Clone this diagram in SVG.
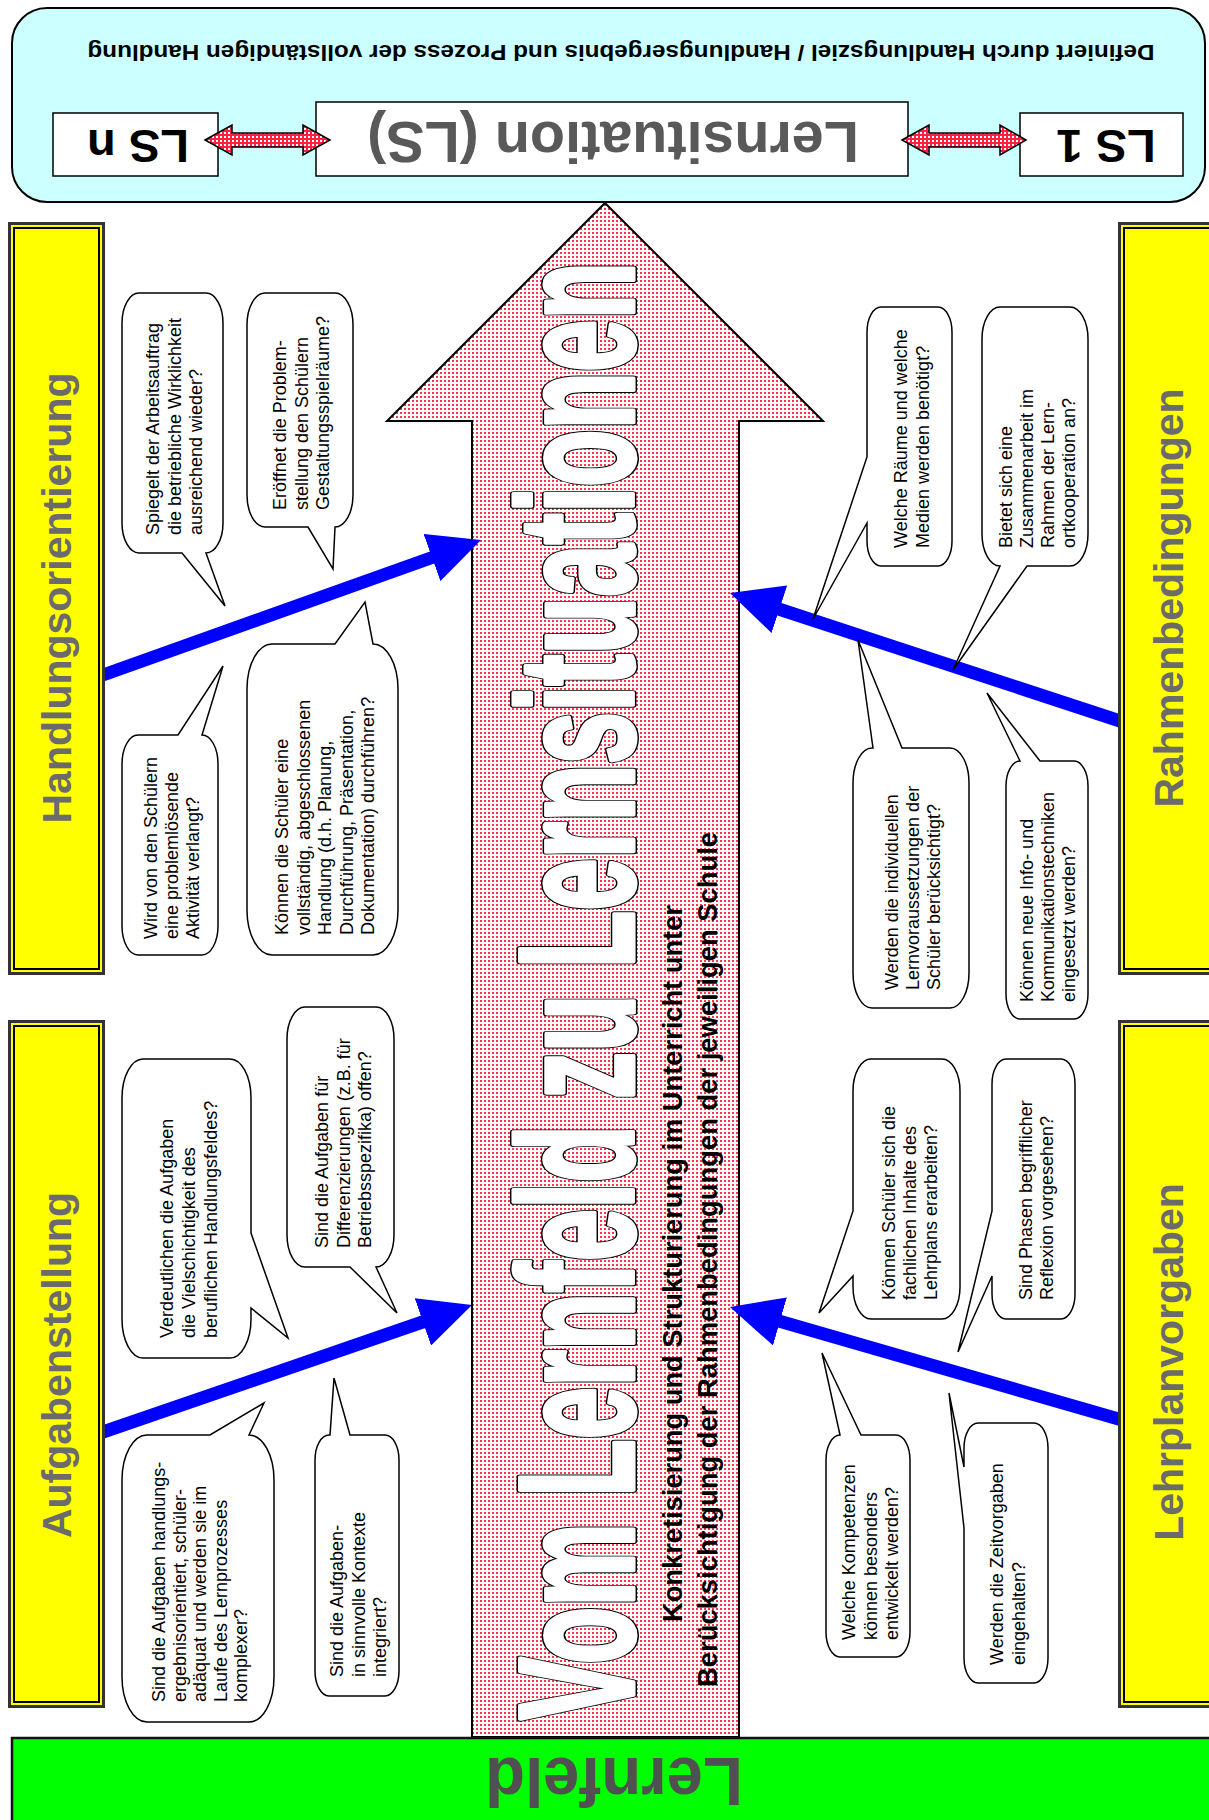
<svg xmlns="http://www.w3.org/2000/svg" width="1209" height="1820" viewBox="0 0 1209 1820">
<defs>
<pattern id="pinkDots" width="4" height="4" patternUnits="userSpaceOnUse"><rect width="4" height="4" fill="#ffffff"/><rect width="2" height="2" fill="#ff3355"/></pattern>
<pattern id="redDots" width="4" height="4" patternUnits="userSpaceOnUse"><rect width="4" height="4" fill="#ff2040"/><rect width="2" height="2" fill="#ffffff"/></pattern>
<marker id="bh" markerUnits="userSpaceOnUse" markerWidth="52" markerHeight="50" viewBox="0 0 52 50" refX="12" refY="25" orient="auto"><path d="M0,0 L52,25 L0,50 Z" fill="#0000ff"/></marker>
<text id="bigT" transform="translate(633,1720) rotate(-90)" font-family="Liberation Sans, Arial, sans-serif" font-size="164" font-weight="bold" textLength="1458" lengthAdjust="spacingAndGlyphs" stroke-linejoin="round">Vom Lernfeld zu Lernsituationen</text>
</defs>
<style>
.sans{font-family:"Liberation Sans",Arial,sans-serif}
.bub{fill:#fff;stroke:#000;stroke-width:1.5}
.bt{font-family:"Liberation Sans",Arial,sans-serif;font-size:18px;fill:#000}
.ybox{fill:#ffff00;stroke:#333;stroke-width:3}
.yin{fill:none;stroke:#000;stroke-width:2}
.ylab{font-family:"Liberation Sans",Arial,sans-serif;font-weight:bold;font-size:41px;fill:#6b6b6b;text-anchor:middle}
.blue{stroke:#0000ff;stroke-width:13;fill:none;marker-end:url(#bh)}
.wbox{fill:#fff;stroke:#000;stroke-width:1.5}
</style>

<g id="lernsituation-panel">
<rect x="12" y="8" width="1193" height="194" rx="35" ry="35" fill="#ccffff" stroke="#000" stroke-width="2"/>
<text class="sans" x="621" y="59.5" text-anchor="middle" font-size="22" font-weight="bold" textLength="1067" lengthAdjust="spacingAndGlyphs" transform="rotate(180 621 52)">Definiert durch Handlungsziel / Handlungsergebnis und Prozess der vollständigen Handlung</text>
</g>
<g id="ls-n">
<rect class="wbox" x="53" y="113" width="165" height="63"/>
<text class="sans" x="138" y="164" text-anchor="middle" font-size="47" font-weight="bold" transform="rotate(180 138 147)">LS n</text>
</g>
<g id="ls-main">
<rect class="wbox" x="316" y="102" width="592" height="74"/>
<text class="sans" x="613" y="162.5" text-anchor="middle" font-size="57" font-weight="bold" fill="#595959" textLength="492" lengthAdjust="spacingAndGlyphs" transform="rotate(180 613 142)">Lernsituation (LS)</text>
</g>
<g id="ls-1">
<rect class="wbox" x="1020" y="113" width="163" height="63"/>
<text class="sans" x="1106" y="164" text-anchor="middle" font-size="47" font-weight="bold" transform="rotate(180 1106 147)">LS 1</text>
</g>
<g id="double-arrows">
<path d="M205,140 L232,125 V133 H303 V125 L330,140 L303,155 V147 H232 V155 Z" fill="url(#redDots)" stroke="#000" stroke-width="1.5"/>
<path d="M902,140 L929,125 V133 H1000 V125 L1026,140 L1000,155 V147 H929 V155 Z" fill="url(#redDots)" stroke="#000" stroke-width="1.5"/>
</g>

<g id="main-arrow">
<path d="M605,203 L823,421 H739 V1737 H472 V421 H387 Z" fill="url(#pinkDots)" stroke="#000" stroke-width="2"/>
<use href="#bigT" fill="#000" stroke="#000" stroke-width="8"/>
<use href="#bigT" fill="#fff" stroke="#fff" stroke-width="5"/>
<text class="sans" transform="translate(682,1622) rotate(-90)" font-size="27" font-weight="bold" textLength="717" lengthAdjust="spacingAndGlyphs">Konkretisierung und Strukturierung im Unterricht unter</text>
<text class="sans" transform="translate(717,1687) rotate(-90)" font-size="27" font-weight="bold" textLength="855" lengthAdjust="spacingAndGlyphs">Berücksichtigung der Rahmenbedingungen der jeweiligen Schule</text>
</g>

<g id="connectors">
<line class="blue" x1="103" y1="675" x2="443.3" y2="553.5"/>
<line class="blue" x1="103" y1="1432" x2="434.2" y2="1318"/>
<line class="blue" x1="1120" y1="721" x2="768" y2="605.5"/>
<line class="blue" x1="1122" y1="1420" x2="768.4" y2="1318.1"/>
</g>

<g id="handlungsorientierung">
<rect class="ybox" x="9.5" y="223.5" width="94" height="750"/>
<rect class="yin" x="14" y="228" width="85" height="741"/>
<text class="ylab" transform="translate(71,598) rotate(-90)">Handlungsorientierung</text>
</g>
<g id="aufgabenstellung">
<rect class="ybox" x="9.5" y="1021.5" width="94" height="685"/>
<rect class="yin" x="14" y="1026" width="85" height="676"/>
<text class="ylab" transform="translate(71,1365) rotate(-90)">Aufgabenstellung</text>
</g>
<g id="rahmenbedingungen">
<rect class="ybox" x="1119.5" y="223.5" width="100" height="750"/>
<rect class="yin" x="1124" y="228" width="95" height="741"/>
<text class="ylab" transform="translate(1183,598) rotate(-90)">Rahmenbedingungen</text>
</g>
<g id="lehrplanvorgaben">
<rect class="ybox" x="1119.5" y="1021.5" width="100" height="685"/>
<rect class="yin" x="1124" y="1026" width="95" height="676"/>
<text class="ylab" transform="translate(1183,1362) rotate(-90)">Lehrplanvorgaben</text>
</g>

<g id="q-spiegelt">
<path class="bub" d="M139,293 H206 A17,30 0 0 1 223,323 V523 A17,30 0 0 1 206,553 L225,606 L182,553 H139 A17,30 0 0 1 122,523 V323 A17,30 0 0 1 139,293 Z"/>
<text class="bt" transform="translate(159,535) rotate(-90)"><tspan x="0" y="0">Spiegelt der Arbeitsauftrag</tspan><tspan x="0" y="21.5">die betriebliche Wirklichkeit</tspan><tspan x="0" y="43">ausreichend wieder?</tspan></text>
</g>
<g id="q-eroeffnet">
<path class="bub" d="M265,293 H335 A18,32 0 0 1 353,325 V495 A18,32 0 0 1 335,527 L333,569 L308,527 H265 A18,32 0 0 1 247,495 V325 A18,32 0 0 1 265,293 Z"/>
<text class="bt" transform="translate(286,510) rotate(-90)"><tspan x="0" y="0">Eröffnet die Problem-</tspan><tspan x="0" y="21.5">stellung den Schülern</tspan><tspan x="0" y="43">Gestaltungsspielräume?</tspan></text>
</g>
<g id="q-wird">
<path class="bub" d="M138,735 H178 L223,666 L202,735 A16,29 0 0 1 218,764 V926 A16,29 0 0 1 202,955 H138 A16,29 0 0 1 122,926 V764 A16,29 0 0 1 138,735 Z"/>
<text class="bt" transform="translate(157,939) rotate(-90)"><tspan x="0" y="0">Wird von den Schülern</tspan><tspan x="0" y="21">eine problemlösende</tspan><tspan x="0" y="42">Aktivität verlangt?</tspan></text>
</g>
<g id="q-koennen-handlung">
<path class="bub" d="M272,644 H335 L365,602 L373,644 A25,45 0 0 1 398,689 V910 A25,45 0 0 1 373,955 H272 A25,45 0 0 1 247,910 V689 A25,45 0 0 1 272,644 Z"/>
<text class="bt" transform="translate(288,935) rotate(-90)"><tspan x="0" y="0">Können die Schüler eine</tspan><tspan x="0" y="21.5">vollständig, abgeschlossenen</tspan><tspan x="0" y="43">Handlung (d.h. Planung,</tspan><tspan x="0" y="64.5">Durchführung, Präsentation,</tspan><tspan x="0" y="86">Dokumentation) durchführen?</tspan></text>
</g>
<g id="q-verdeutlichen">
<path class="bub" d="M143,1059 H230 A21,39 0 0 1 251,1098 V1233 L288,1338 L251,1308 V1319 A21,39 0 0 1 230,1358 H143 A21,39 0 0 1 122,1319 V1098 A21,39 0 0 1 143,1059 Z"/>
<text class="bt" transform="translate(173,1338) rotate(-90)"><tspan x="0" y="0">Verdeutlichen die Aufgaben</tspan><tspan x="0" y="22">die Vielschichtigkeit des</tspan><tspan x="0" y="44">beruflichen Handlungsfeldes?</tspan></text>
</g>
<g id="q-differenzierungen">
<path class="bub" d="M305,1007 H376 A18,32 0 0 1 394,1039 V1235 A18,32 0 0 1 376,1267 L397,1313 L350,1267 H305 A18,32 0 0 1 287,1235 V1039 A18,32 0 0 1 305,1007 Z"/>
<text class="bt" transform="translate(328,1248) rotate(-90)"><tspan x="0" y="0">Sind die Aufgaben für</tspan><tspan x="0" y="21.5">Differenzierungen (z.B. für</tspan><tspan x="0" y="43">Betriebsspezifika) offen?</tspan></text>
</g>
<g id="q-handlungsergebnis">
<path class="bub" d="M147,1435 H210 L264,1403 L249,1435 A25,45 0 0 1 274,1480 V1677 A25,45 0 0 1 249,1722 H147 A25,45 0 0 1 122,1677 V1480 A25,45 0 0 1 147,1435 Z"/>
<text class="bt" transform="translate(165,1702) rotate(-90)"><tspan x="0" y="0">Sind die Aufgaben handlungs-</tspan><tspan x="0" y="20.5">ergebnisorientiert, schüler-</tspan><tspan x="0" y="41">adäquat und werden sie im</tspan><tspan x="0" y="61.5">Laufe des Lernprozesses</tspan><tspan x="0" y="82">komplexer?</tspan></text>
</g>
<g id="q-kontexte">
<path class="bub" d="M329,1435 H330 L334,1378 L350,1435 H385 A14,25 0 0 1 399,1460 V1671 A14,25 0 0 1 385,1696 H329 A14,25 0 0 1 315,1671 V1460 A14,25 0 0 1 329,1435 Z"/>
<text class="bt" transform="translate(343,1677) rotate(-90)"><tspan x="0" y="0">Sind die Aufgaben-</tspan><tspan x="0" y="21.5">in sinnvolle Kontexte</tspan><tspan x="0" y="43">integriert?</tspan></text>
</g>

<g id="q-raeume">
<path class="bub" d="M881,307 H938 A14,25 0 0 1 952,332 V541 A14,25 0 0 1 938,566 H881 A14,25 0 0 1 867,541 V523 L813,619 L867,457 V332 A14,25 0 0 1 881,307 Z"/>
<text class="bt" transform="translate(907,548) rotate(-90)"><tspan x="0" y="0">Welche Räume und welche</tspan><tspan x="0" y="21.5">Medien werden benötigt?</tspan></text>
</g>
<g id="q-lernort">
<path class="bub" d="M1000,307 H1070 A18,32 0 0 1 1088,339 V534 A18,32 0 0 1 1070,566 H1027 L953,670 L1000,566 A18,32 0 0 1 982,534 V339 A18,32 0 0 1 1000,307 Z"/>
<text class="bt" transform="translate(1012,548) rotate(-90)"><tspan x="0" y="0">Bietet sich eine</tspan><tspan x="0" y="21">Zusammenarbeit im</tspan><tspan x="0" y="42">Rahmen der Lern-</tspan><tspan x="0" y="63">ortkooperation an?</tspan></text>
</g>
<g id="q-lernvoraussetzungen">
<path class="bub" d="M872,748 H873 L858,640 L902,748 H950 A19,35 0 0 1 969,783 V973 A19,35 0 0 1 950,1008 H872 A19,35 0 0 1 853,973 V783 A19,35 0 0 1 872,748 Z"/>
<text class="bt" transform="translate(898,990) rotate(-90)"><tspan x="0" y="0">Werden die individuellen</tspan><tspan x="0" y="21">Lernvoraussetzungen der</tspan><tspan x="0" y="42">Schüler berücksichtigt?</tspan></text>
</g>
<g id="q-info">
<path class="bub" d="M1020,761 L987,693 L1040,761 H1074 A14,25 0 0 1 1088,786 V994 A14,25 0 0 1 1074,1019 H1020 A14,25 0 0 1 1006,994 V786 A14,25 0 0 1 1020,761 Z"/>
<text class="bt" transform="translate(1033,1002) rotate(-90)"><tspan x="0" y="0">Können neue Info- und</tspan><tspan x="0" y="21">Kommunikationstechniken</tspan><tspan x="0" y="42">eingesetzt werden?</tspan></text>
</g>
<g id="q-fachinhalte">
<path class="bub" d="M871,1059 H942 A18,32 0 0 1 960,1091 V1287 A18,32 0 0 1 942,1319 H871 A18,32 0 0 1 853,1287 V1276 L819,1313 L853,1211 V1091 A18,32 0 0 1 871,1059 Z"/>
<text class="bt" transform="translate(895,1300) rotate(-90)"><tspan x="0" y="0">Können Schüler sich die</tspan><tspan x="0" y="21">fachlichen Inhalte des</tspan><tspan x="0" y="42">Lehrplans erarbeiten?</tspan></text>
</g>
<g id="q-reflexion">
<path class="bub" d="M1006,1059 H1061 A14,25 0 0 1 1075,1084 V1294 A14,25 0 0 1 1061,1319 H1006 A14,25 0 0 1 992,1294 V1276 L958,1352 L992,1211 V1084 A14,25 0 0 1 1006,1059 Z"/>
<text class="bt" transform="translate(1032,1300) rotate(-90)"><tspan x="0" y="0">Sind Phasen begrifflicher</tspan><tspan x="0" y="21">Reflexion vorgesehen?</tspan></text>
</g>
<g id="q-kompetenzen">
<path class="bub" d="M840,1435 L822,1353 L861,1435 H896 A14,25 0 0 1 910,1460 V1632 A14,25 0 0 1 896,1657 H840 A14,25 0 0 1 826,1632 V1460 A14,25 0 0 1 840,1435 Z"/>
<text class="bt" transform="translate(855,1640) rotate(-90)"><tspan x="0" y="0">Welche Kompetenzen</tspan><tspan x="0" y="21.5">können besonders</tspan><tspan x="0" y="43">entwickelt werden?</tspan></text>
</g>
<g id="q-zeitvorgaben">
<path class="bub" d="M978,1423 H1034 A14,25 0 0 1 1048,1448 V1658 A14,25 0 0 1 1034,1683 H978 A14,25 0 0 1 964,1658 V1528 L949,1393 L964,1467 V1448 A14,25 0 0 1 978,1423 Z"/>
<text class="bt" transform="translate(1003,1665) rotate(-90)"><tspan x="0" y="0">Werden die Zeitvorgaben</tspan><tspan x="0" y="22">eingehalten?</tspan></text>
</g>

<g id="lernfeld">
<rect x="12" y="1738" width="1205" height="90" fill="#00ff00" stroke="#111" stroke-width="2.5"/>
<text class="sans" x="614" y="1808" text-anchor="middle" font-size="69" font-weight="bold" fill="#505050" textLength="258" lengthAdjust="spacingAndGlyphs" transform="rotate(180 614 1783)">Lernfeld</text>
</g>
</svg>
